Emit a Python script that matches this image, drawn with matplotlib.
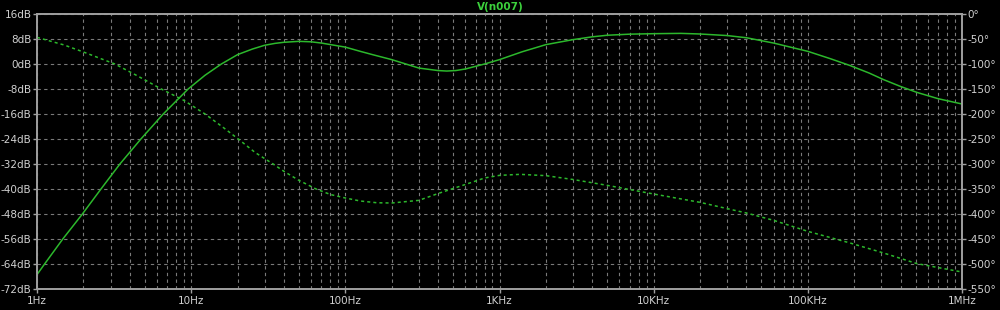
import matplotlib.pyplot as plt
import numpy as np
from matplotlib.ticker import LogLocator

# magnitude trace (solid)
mag_freq = [1, 1.12, 1.47, 1.97, 2.6, 3.45, 4.72, 6.59, 9.56, 12.3, 15.7, 20, 25, 30, 35, 40, 50, 60, 70, 100, 125,
            150, 200, 300, 400, 455, 520, 600, 800, 1000, 1400, 2000, 3000, 4000, 5000, 7000,
            10000, 15000, 20000, 30000, 40000, 60000, 100000,
            140000, 188000, 250000, 310000, 400000, 511000, 700000, 1000000]
mag_db = [-67.4, -64, -56, -48, -40, -32, -24, -16, -8, -3.6, 0.0, 3.0, 4.8, 6.0, 6.6, 6.95, 7.25, 7.1, 6.7, 5.4, 4.05,
          3.0, 1.4, -1.3, -2.1, -2.25, -2.1, -1.6, 0.0, 1.4, 3.9, 6.2, 7.8, 8.7, 9.2, 9.55,
          9.7, 9.8, 9.6, 9.1, 8.4, 6.7, 4.05,
          1.7, -0.5, -2.9, -5.0, -7.2, -9.1, -11.1, -12.8]

# phase trace (dashed)
ph_freq = [1, 1.5, 2, 3.2, 4.5, 6.4, 9, 12.3, 16, 20.2, 26, 34, 40, 50, 64.6, 80, 100, 125, 160,
           200, 300, 400, 600, 800, 1000, 1360, 2000, 3000, 5000,
           10000, 20000, 30000, 40000, 60000, 100000,
           188000, 310000, 511000, 1000000]
ph_deg = [-46.7, -62, -76, -100, -124, -150, -173, -200, -226, -250, -277, -300, -314.7, -332.7, -350, -361, -368, -374, -377.5,
          -378, -372.7, -359, -341, -328, -322.7, -320.7, -323.3, -331, -342.7,
          -360, -376.7, -389.3, -398, -412.7, -434.7,
          -458, -478, -499.3, -516]

x_ticks = [1, 10, 100, 1e3, 1e4, 1e5, 1e6]
x_labels = ['1Hz', '10Hz', '100Hz', '1KHz', '10KHz', '100KHz', '1MHz']
db_ticks = list(range(16, -73, -8))
deg_ticks = list(range(0, -551, -50))

trace = '#2cb82c'
txt = '#d0d0d0'
grid = '#7a7a7a'

fig = plt.figure(figsize=(10, 3.1), dpi=100, facecolor='black')
ax = fig.add_axes([0.037, 1 - 289 / 310, 0.925, 275 / 310])
ax.set_facecolor('black')
ax2 = ax.twinx()

ax.set_xscale('log')
ax.set_xlim(1, 1e6)
ax.set_ylim(-72, 16)
ax2.set_ylim(-550, 0)

ax.plot(mag_freq, mag_db, color=trace, lw=1.1)
ax2.plot(ph_freq, ph_deg, color=trace, lw=1.1, linestyle=(0, (2, 2)))

ax.set_xticks(x_ticks)
ax.set_xticklabels(x_labels)
ax.xaxis.set_minor_locator(LogLocator(base=10, subs=np.arange(2, 10)))
ax.xaxis.set_minor_formatter(plt.NullFormatter())
ax.set_yticks(db_ticks)
ax.set_yticklabels([f'{v}dB' for v in db_ticks])
ax2.set_yticks(deg_ticks)
ax2.set_yticklabels([f'{v}°' for v in deg_ticks])

ax.grid(True, which='both', axis='x', color=grid, linestyle=(0, (3, 3)), lw=0.8)
ax.grid(True, which='major', axis='y', color=grid, linestyle=(0, (3, 3)), lw=0.8)
ax.set_axisbelow(True)

for a in (ax, ax2):
    for s in a.spines.values():
        s.set_color('#a0a0a0')
        s.set_linewidth(1.2)
    a.tick_params(colors='#a0a0a0', labelcolor=txt, labelsize=7.5, length=3, width=1, pad=1)
ax.tick_params(axis='x', which='minor', length=0)
ax.tick_params(axis='x', pad=2)

fig.text(0.5, 1 - 7 / 310, 'V(n007)', color='#3cd03c', fontsize=7.5, fontweight='bold',
         ha='center', va='center')

fig.savefig('out.png', dpi=100, facecolor='black')
